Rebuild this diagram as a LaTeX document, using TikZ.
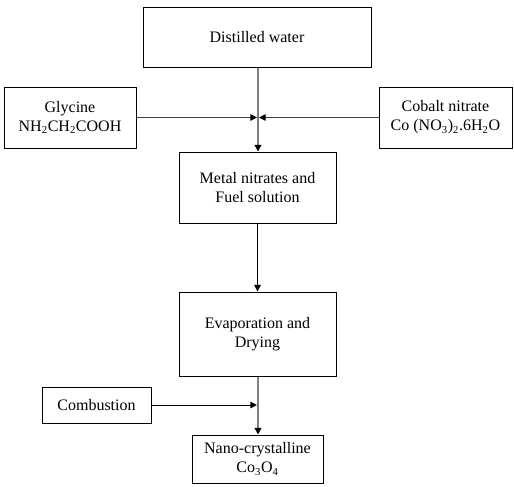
\documentclass[tikz,border=0pt]{standalone}
\usepackage{fontspec}
\setmainfont{Liberation Serif}
\usetikzlibrary{arrows.meta, positioning}

\begin{document}
\begin{tikzpicture}[
    x=0.75pt, y=-0.75pt,
    font=\fontsize{12pt}{14.25pt}\selectfont,
    process/.style={rectangle, draw, line width=0.75pt, align=center, text centered, inner sep=2pt},
    arrow/.style={line width=0.75pt, draw=black!75, -{Triangle[length=5pt, width=5pt, black]}},
    mainline/.style={line width=1.3pt, draw=black!50, -{Triangle[length=5pt, width=5pt, black]}}
]
\useasboundingbox (0,0) rectangle (514,486);

% Nodes
\node (water) [process, minimum width=171pt, minimum height=45pt] at (257,37) {Distilled water};
\node (glycine) [process, minimum width=99pt, minimum height=45.75pt] at (70,117.5) {Glycine\\NH\textsubscript{2}CH\textsubscript{2}COOH};
\node (cobalt) [process, minimum width=99.75pt, minimum height=45.75pt] at (445.5,117.5) {Cobalt nitrate\\Co (NO\textsubscript{3})\textsubscript{2}.6H\textsubscript{2}O};
\node (metal) [process, minimum width=117.75pt, minimum height=53.25pt] at (257.5,187.5) {Metal nitrates and\\Fuel solution};
\node (evap) [process, minimum width=117.75pt, minimum height=63pt] at (257.5,334) {Evaporation and\\Drying};
\node (comb) [process, minimum width=81.75pt, minimum height=27pt] at (96.5,405) {Combustion};
\node (nano) [process, minimum width=98.25pt, minimum height=36pt] at (257.5,459) {Nano-crystalline\\Co\textsubscript{3}O\textsubscript{4}};
\coordinate (mix) at (258,117.5);
\coordinate (burn) at (258,405);

% Connections
\draw [mainline] (water.south -| mix) -- (metal.north -| mix);
\draw [arrow] (glycine.east) -- ([xshift=-0.8pt]mix);
\draw [arrow] (cobalt.west) -- ([xshift=0.8pt]mix);
\draw [arrow, draw=black] (metal) -- (evap);
\draw [mainline] (evap.south -| mix) -- (nano.north -| mix);
\draw [arrow, draw=black] (comb.east) -- ([xshift=-0.8pt]burn);

\end{tikzpicture}
\end{document}
